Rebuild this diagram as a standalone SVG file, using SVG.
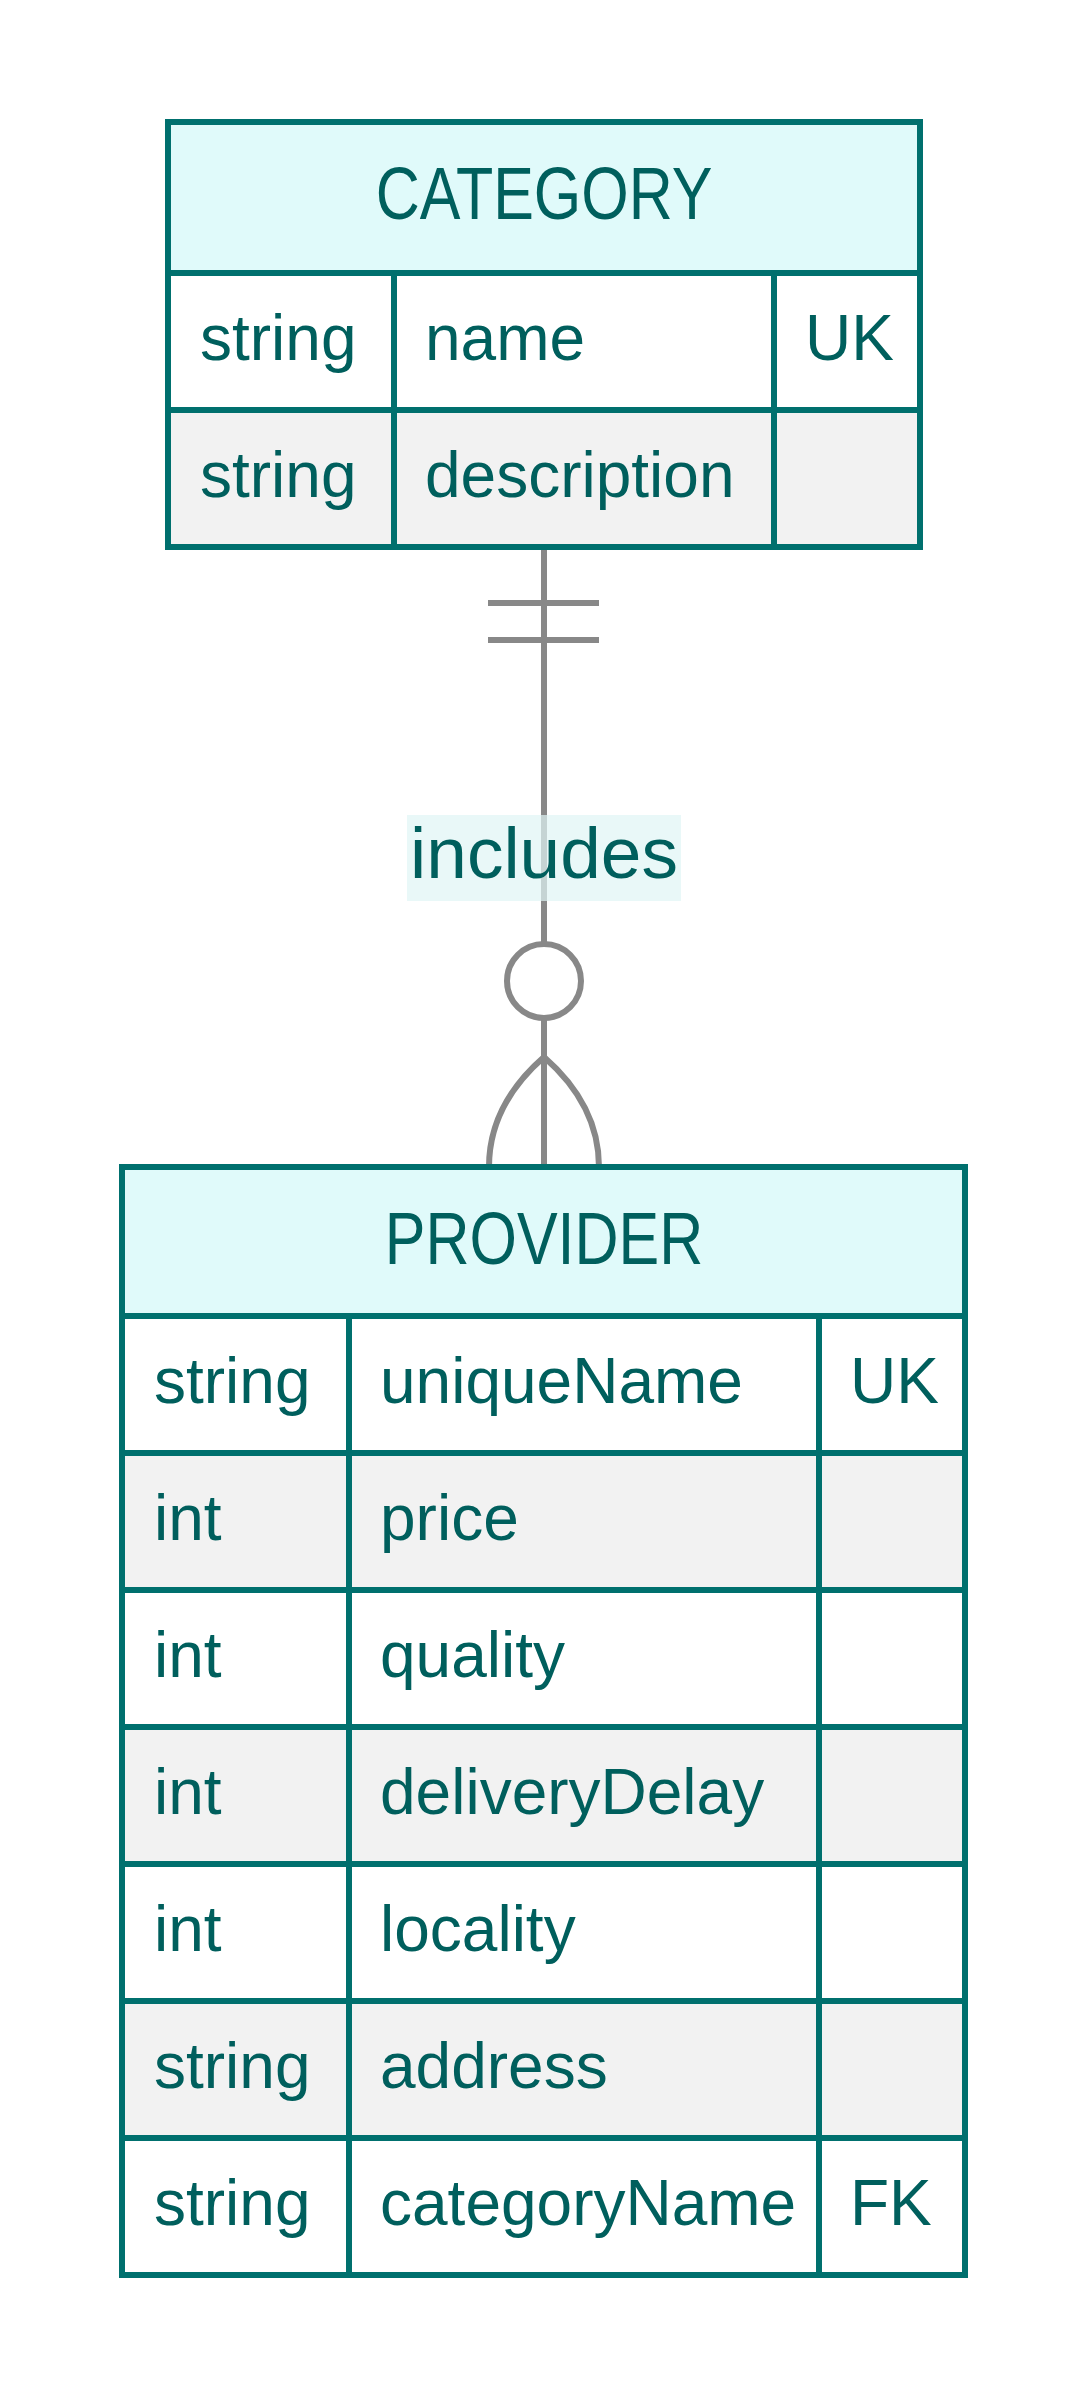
<svg xmlns="http://www.w3.org/2000/svg" width="1088" height="2400" viewBox="0 0 1088 2400">
  <style>
    .bg { fill: #ffffff; }
    .hdr { fill: #e0fafa; stroke: #00706e; stroke-width: 6; }
    .odd { fill: #ffffff; stroke: #00706e; stroke-width: 6; }
    .even { fill: #f2f2f2; stroke: #00706e; stroke-width: 6; }
    .div { stroke: #00706e; stroke-width: 6; }
    .title { font-family: "Liberation Sans", Arial, sans-serif; font-size: 61px; fill: #005f5d; text-anchor: middle; }
    .attr { font-family: "Liberation Sans", Arial, sans-serif; font-size: 64px; fill: #005f5d; }
    .rel { stroke: #888888; stroke-width: 6; fill: none; }
    .lblbg { fill: #e0f5f5; opacity: 0.7; }
    .lbl { font-family: "Liberation Sans", Arial, sans-serif; font-size: 73px; fill: #005f5d; text-anchor: middle; }
  </style>
  <rect class="bg" x="0" y="0" width="1088" height="2400"/>

  <g id="connectors">
    <line class="rel" x1="544" y1="547" x2="544" y2="1167"/>
    <line class="rel" x1="488" y1="603" x2="599" y2="603"/>
    <line class="rel" x1="488" y1="640" x2="599" y2="640"/>
    <circle cx="544" cy="981" r="37" fill="#ffffff" stroke="#888888" stroke-width="6"/>
    <path class="rel" d="M544,1057 Q489,1105 489,1167"/>
    <path class="rel" d="M544,1057 Q599,1105 599,1167"/>
    <g id="label-includes">
      <rect class="lblbg" x="407" y="815" width="274" height="86"/>
      <text class="lbl" x="544" y="878">includes</text>
    </g>
  </g>

  <g id="CATEGORY">
    <rect class="hdr" x="168" y="122" width="752" height="151"/>
    <rect class="odd" x="168" y="273" width="752" height="137"/>
    <rect class="even" x="168" y="410" width="752" height="137"/>
    <line class="div" x1="394" y1="273" x2="394" y2="547"/>
    <line class="div" x1="774" y1="273" x2="774" y2="547"/>
    <text class="title" transform="translate(544,219) scale(1,1.2)" x="0" y="0">CATEGORY</text>
    <text class="attr" x="200" y="360">string</text>
    <text class="attr" x="425" y="360">name</text>
    <text class="attr" x="805" y="360">UK</text>
    <text class="attr" x="200" y="497">string</text>
    <text class="attr" x="425" y="497">description</text>
  </g>

  <g id="PROVIDER">
    <rect class="hdr" x="122" y="1167" width="843" height="149"/>
    <rect class="odd" x="122" y="1316" width="843" height="137"/>
    <rect class="even" x="122" y="1453" width="843" height="137"/>
    <rect class="odd" x="122" y="1590" width="843" height="137"/>
    <rect class="even" x="122" y="1727" width="843" height="137"/>
    <rect class="odd" x="122" y="1864" width="843" height="137"/>
    <rect class="even" x="122" y="2001" width="843" height="137"/>
    <rect class="odd" x="122" y="2138" width="843" height="137"/>
    <line class="div" x1="349" y1="1316" x2="349" y2="2275"/>
    <line class="div" x1="819" y1="1316" x2="819" y2="2275"/>
    <text class="title" transform="translate(544,1264) scale(1,1.2)" x="0" y="0">PROVIDER</text>
    <text class="attr" x="154" y="1403">string</text>
    <text class="attr" x="380" y="1403">uniqueName</text>
    <text class="attr" x="850" y="1403">UK</text>
    <text class="attr" x="154" y="1540">int</text>
    <text class="attr" x="380" y="1540">price</text>
    <text class="attr" x="154" y="1677">int</text>
    <text class="attr" x="380" y="1677">quality</text>
    <text class="attr" x="154" y="1814">int</text>
    <text class="attr" x="380" y="1814">deliveryDelay</text>
    <text class="attr" x="154" y="1951">int</text>
    <text class="attr" x="380" y="1951">locality</text>
    <text class="attr" x="154" y="2088">string</text>
    <text class="attr" x="380" y="2088">address</text>
    <text class="attr" x="154" y="2225">string</text>
    <text class="attr" x="380" y="2225">categoryName</text>
    <text class="attr" x="850" y="2225">FK</text>
  </g>
</svg>
